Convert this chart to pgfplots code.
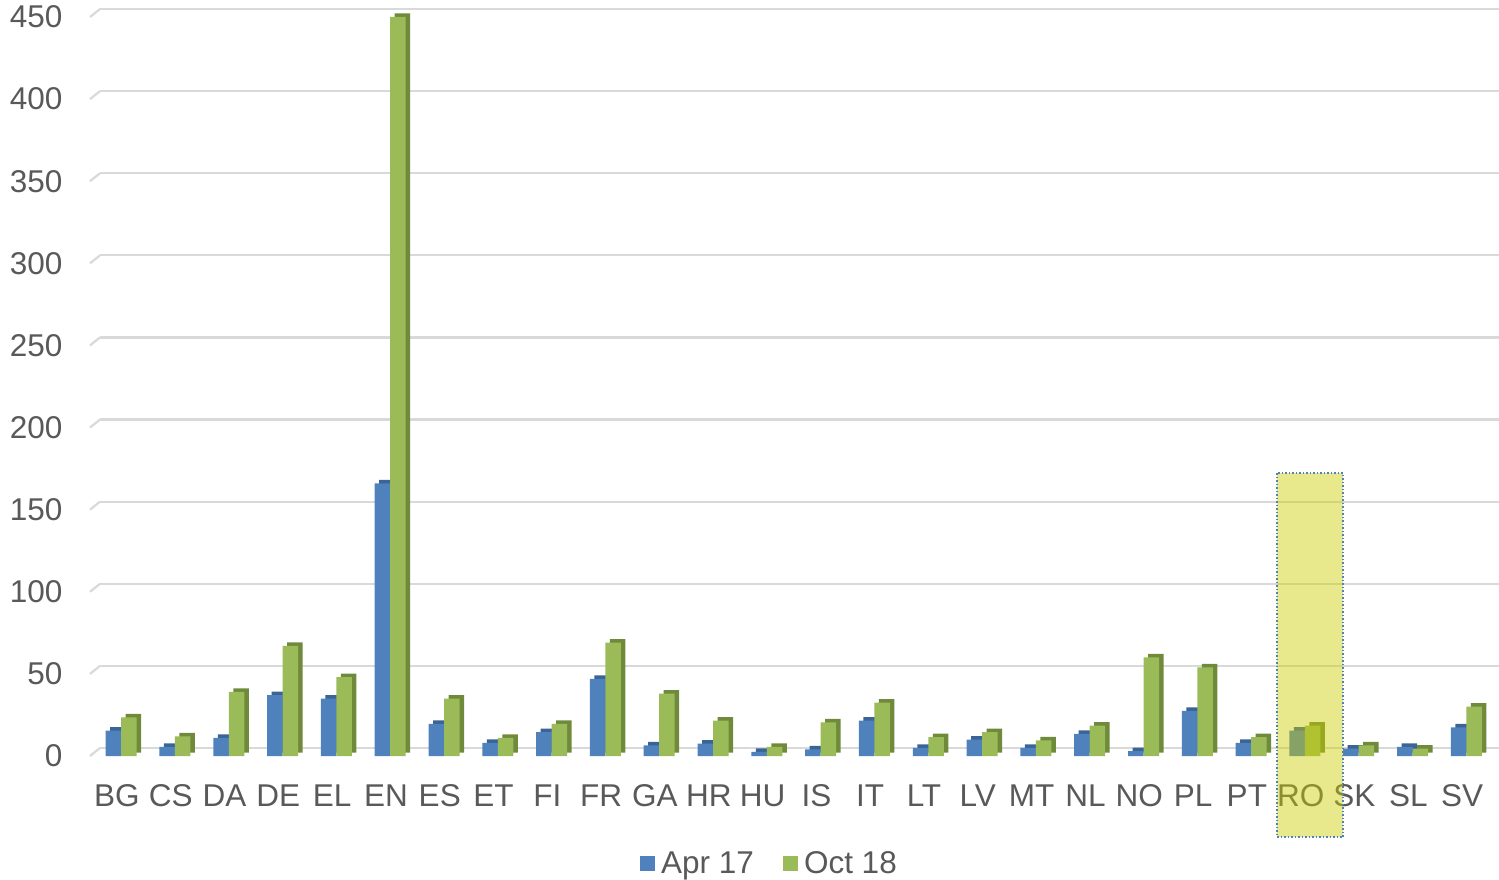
\documentclass[border=0pt]{standalone}
\usepackage{pgfplots}
\pgfplotsset{compat=1.18}
\usepackage{pgfplotstable}
\usepackage{fontspec}
\setmainfont{Liberation Sans}
\definecolor{bblue}{HTML}{4F81BD}
\definecolor{bblued}{HTML}{3A6496}
\definecolor{bgreen}{HTML}{9BBB59}
\definecolor{bgreend}{HTML}{6E8A3A}
\definecolor{tgrey}{HTML}{595959}
\definecolor{ggrey}{HTML}{D9D9D9}
\pgfplotstableread{
x lab apr oct
0 BG 15.5 23.5
1 CS 5.5 12
2 DA 11 39
3 DE 37 67
4 EL 35 48
5 EN 166 450
6 ES 19.5 35
7 ET 8 11
8 FI 14.5 19.5
9 FR 47 69
10 GA 6.5 38
11 HR 7.5 21.5
12 HU 2.5 5.5
13 IS 4 20.5
14 IT 21.5 32.5
15 LT 5 11.5
16 LV 10 14.5
17 MT 5 9.5
18 NL 13.5 18.5
19 NO 3 60
20 PL 27.5 54
21 PT 8 11.5
22 RO 15.5 18.5
23 SK 4.5 6.5
24 SL 5.5 4.5
25 SV 17.5 30
}\datatable
\begin{document}
\begin{tikzpicture}
\path[use as bounding box] (0,0) rectangle (1499pt,879pt);
\begin{axis}[
  at={(90pt,123pt)}, anchor=south west,
  scale only axis, width=1399pt, height=739pt,
  xmin=-0.5, xmax=25.5, ymin=0, ymax=450,
  ytick={0,50,...,450},
  xtick=data,
  xticklabels from table={\datatable}{lab},
  /pgf/number format/assume math mode=true,
  axis line style={draw=none},
  major tick length=0pt,
  ymajorgrids,
  grid style={draw=ggrey, line width=2.2pt, xshift=10pt, yshift=8pt},
  ticklabel style={font=\fontsize{31.5}{37}\selectfont, text=tgrey},
  yticklabel style={anchor=east, xshift=-24pt},
  xticklabel style={anchor=north, yshift=-25pt},
  ybar, bar width=15.5pt,
  clip=false,
  legend columns=2,
  legend style={at={(0.4857,-0.1448)}, anchor=center, draw=none, fill=none,
    font=\fontsize{31.5}{37}\selectfont, text=tgrey,
    /tikz/every odd column/.append style={column sep=4pt},
    /tikz/every even column/.append style={column sep=27pt}},
  legend image code/.code={\fill[#1] (0pt,-7.5pt) rectangle (15pt,7.5pt);},
]
\pgfplotsinvokeforeach{0,50,...,450}{
  \draw[ggrey, line width=2.2pt] (axis cs:-0.5,#1) -- ++(10pt,8pt);
}
\addplot[fill=bblued, draw=none, bar shift=1pt, yshift=3.5pt, forget plot] table[x=x,y=apr] {\datatable};
\addplot[fill=bgreend, draw=none, bar shift=16.5pt, yshift=3.5pt, forget plot] table[x=x,y=oct] {\datatable};
\addplot[fill=bblue, draw=none, bar shift=-3.5pt] table[x=x,y=apr] {\datatable};
\addplot[fill=bgreen, draw=none, bar shift=12pt] table[x=x,y=oct] {\datatable};
\legend{Apr 17, Oct 18}
\coordinate (hlA) at (axis cs:21.56,172.3);
\coordinate (hlB) at (axis cs:22.79,-49.3);
\end{axis}
\fill[fill={rgb,255:red,204;green,204;blue,0}, fill opacity=0.45] (hlA) rectangle (hlB);
\draw[bblue, line width=1.5pt, dotted] (hlA) rectangle (hlB);
\end{tikzpicture}
\end{document}
